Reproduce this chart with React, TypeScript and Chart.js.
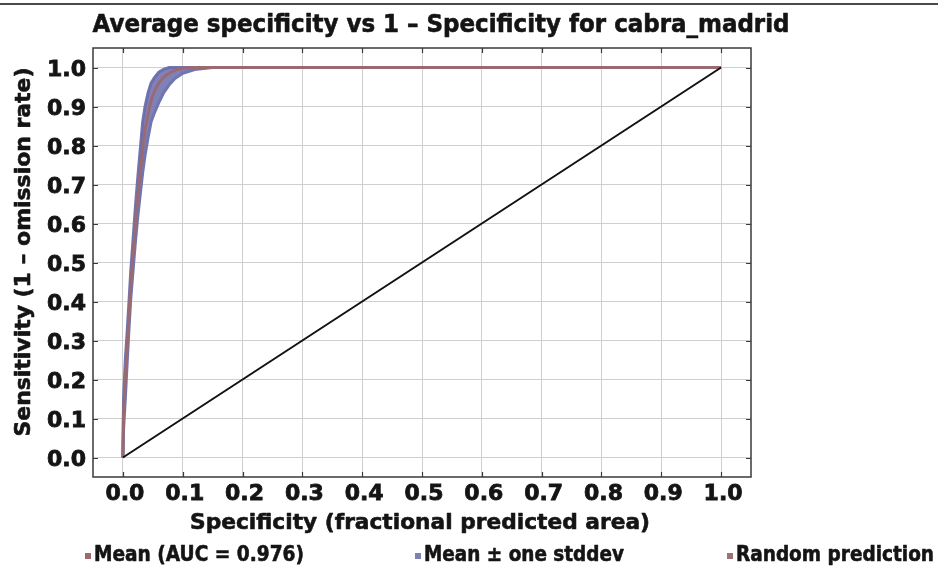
import React, { useEffect, useRef } from "react";
import { Chart, registerables } from "chart.js";

Chart.register(...registerables);

const TITLE = "Average specificity vs 1 \u2013 Specificity for cabra_madrid";
const X_TITLE = "Specificity (fractional predicted area)";
const Y_TITLE = "Sensitivity (1 \u2013 omission rate)";

const X_TICKS = [0, 0.1, 0.2, 0.3, 0.4, 0.5, 0.6, 0.7, 0.8, 0.9, 1.0];
const Y_TICKS = [0, 0.1, 0.2, 0.3, 0.4, 0.5, 0.6, 0.7, 0.8, 0.9, 1.0];

const FPR = [0, 0.001, 0.004, 0.007, 0.01, 0.013, 0.017, 0.021, 0.025, 0.029, 0.033, 0.037, 0.042, 0.047, 0.053, 0.06, 0.068, 0.077, 0.087, 0.1, 0.12, 0.15, 1.0];
const MEAN = [0, 0.11, 0.2, 0.28, 0.36, 0.44, 0.52, 0.6, 0.67, 0.73, 0.79, 0.84, 0.88, 0.915, 0.94, 0.96, 0.975, 0.985, 0.993, 0.998, 1.0, 1.0, 1.0];

const BAND_X = [0, 0.001, 0.004, 0.007, 0.01, 0.013, 0.017, 0.021, 0.025, 0.029, 0.033, 0.037, 0.042, 0.047, 0.053, 0.06, 0.068, 0.077, 0.087, 0.1, 0.12, 0.15];
const UPPER = [0, 0.15, 0.25, 0.32, 0.395, 0.475, 0.56, 0.645, 0.72, 0.79, 0.86, 0.9, 0.935, 0.96, 0.975, 0.988, 0.995, 1.0, 1.0, 1.0, 1.0, 1.0];
const LOWER = [0, 0.07, 0.15, 0.24, 0.325, 0.405, 0.48, 0.555, 0.62, 0.675, 0.73, 0.775, 0.82, 0.86, 0.885, 0.91, 0.935, 0.955, 0.972, 0.985, 0.995, 1.0];

const RANDOM_X = [0, 1];
const RANDOM_Y = [0, 1];

const LEGEND_LABELS = ["Mean (AUC = 0.976)", "Mean \u00b1 one stddev", "Random prediction"];

const MEAN_COLOR = "#9a6a72";
const BAND_COLOR = "rgba(104,108,172,0.85)";
const BAND_LINE = "#7175b0";
const LEGEND_COLORS = ["#9c6b70", "#7c80b5", "#9b7476"];

const FONT_FAMILY = "'DejaVu Sans', sans-serif";
const TEXT_COLOR = "#141414";

const pts = (xs: number[], ys: number[]) => xs.map((x, i) => ({ x, y: ys[i] }));

function fitText(ctx: any, text: string, x: number, y: number, width: number, size: number, align: string) {
  ctx.save();
  ctx.font = `bold ${size}px ${FONT_FAMILY}`;
  const w = ctx.measureText(text).width;
  ctx.translate(x, y);
  ctx.scale(width / w, 1);
  ctx.textAlign = align;
  ctx.fillStyle = TEXT_COLOR;
  ctx.strokeStyle = TEXT_COLOR;
  ctx.lineWidth = 0.6;
  ctx.lineJoin = "round";
  ctx.strokeText(text, 0, 0);
  ctx.fillText(text, 0, 0);
  ctx.restore();
}

const decorPlugin = {
  id: "decor",
  afterDraw(chart: any) {
    const { ctx, chartArea } = chart;
    const { left, right, top, bottom } = chartArea;
    const xs = chart.scales.x;
    const ys = chart.scales.y;
    ctx.save();
    // top rule
    ctx.fillStyle = "#4a4a4a";
    ctx.fillRect(0, 3, 938, 2);
    // frame
    ctx.strokeStyle = "#3a3a3a";
    ctx.lineWidth = 1.5;
    ctx.strokeRect(left, top, right - left, bottom - top);
    // inner ticks
    ctx.lineWidth = 1.2;
    X_TICKS.forEach((v) => {
      const px = Math.round(xs.getPixelForValue(v)) + 0.5;
      ctx.beginPath();
      ctx.moveTo(px, bottom);
      ctx.lineTo(px, bottom - 5);
      ctx.moveTo(px, top);
      ctx.lineTo(px, top + 5);
      ctx.stroke();
    });
    Y_TICKS.forEach((v) => {
      const py = Math.round(ys.getPixelForValue(v)) + 0.5;
      ctx.beginPath();
      ctx.moveTo(left, py);
      ctx.lineTo(left + 5, py);
      ctx.moveTo(right, py);
      ctx.lineTo(right - 5, py);
      ctx.stroke();
    });
    // titles
    ctx.textBaseline = "alphabetic";
    fitText(ctx, TITLE, 441, 32, 697, 24, "center");
    fitText(ctx, X_TITLE, 420, 529, 460, 22, "center");
    ctx.save();
    ctx.translate(30, 252);
    ctx.rotate(-Math.PI / 2);
    fitText(ctx, Y_TITLE, 0, 0, 369, 22, "center");
    ctx.restore();
    // legend
    const legendX = [85, 415, 727];
    const legendW = [210, 200, 198];
    LEGEND_LABELS.forEach((lab, i) => {
      ctx.fillStyle = LEGEND_COLORS[i];
      ctx.fillRect(legendX[i], 553, 6, 6);
      fitText(ctx, lab, legendX[i] + 9, 561, legendW[i], 21, "left");
    });
    ctx.restore();
  },
};

const tickFont = { family: FONT_FAMILY, weight: "bold", size: 22 };

export default function App() {
  const ref = useRef<HTMLCanvasElement>(null);
  useEffect(() => {
    if (!ref.current) return;
    const chart = new Chart(ref.current, {
      type: "scatter",
      data: {
        datasets: [
          {
            label: "upper",
            data: pts(BAND_X, UPPER),
            showLine: true,
            borderColor: BAND_LINE,
            borderWidth: 3,
            pointRadius: 0,
            fill: false,
            order: 3,
          },
          {
            label: LEGEND_LABELS[1],
            data: pts(BAND_X, LOWER),
            showLine: true,
            borderColor: BAND_LINE,
            borderWidth: 3,
            pointRadius: 0,
            backgroundColor: BAND_COLOR,
            fill: "-1",
            order: 2,
          },
          {
            label: LEGEND_LABELS[0],
            data: pts(FPR, MEAN),
            showLine: true,
            borderColor: MEAN_COLOR,
            borderWidth: 3,
            pointRadius: 0,
            fill: false,
            order: 1,
          },
          {
            label: LEGEND_LABELS[2],
            data: pts(RANDOM_X, RANDOM_Y),
            showLine: true,
            borderColor: "#111",
            borderWidth: 2,
            pointRadius: 0,
            fill: false,
            order: 0,
          },
        ],
      },
      options: {
        animation: false,
        responsive: false,
        devicePixelRatio: 1,
        layout: { padding: { top: 48, right: 187, bottom: 0, left: 0 } },
        plugins: { legend: { display: false }, tooltip: { enabled: false }, title: { display: false } },
        scales: {
          x: {
            type: "linear",
            min: -0.05,
            max: 1.05,
            afterFit: (s: any) => {
              s.height = 93;
            },
            afterBuildTicks: (s: any) => {
              s.ticks = X_TICKS.map((v) => ({ value: v }));
            },
            grid: { color: "#cfcfcf", lineWidth: 1, drawTicks: false },
            border: { display: false },
            ticks: {
              padding: 4,
              labelOffset: 2,
              color: TEXT_COLOR,
              textStrokeColor: TEXT_COLOR,
              textStrokeWidth: 0.8,
              font: tickFont,
              callback: (v: any) => Number(v).toFixed(1),
              maxRotation: 0,
              autoSkip: false,
            },
          },
          y: {
            type: "linear",
            min: -0.05,
            max: 1.05,
            afterFit: (s: any) => {
              s.width = 93;
            },
            afterBuildTicks: (s: any) => {
              s.ticks = Y_TICKS.map((v) => ({ value: v }));
            },
            grid: { color: "#cfcfcf", lineWidth: 1, drawTicks: false },
            border: { display: false },
            ticks: {
              padding: 7,
              labelOffset: 3,
              color: TEXT_COLOR,
              textStrokeColor: TEXT_COLOR,
              textStrokeWidth: 0.8,
              font: tickFont,
              callback: (v: any) => Number(v).toFixed(1),
              autoSkip: false,
            },
          },
        },
      },
      plugins: [decorPlugin],
    } as any);
    return () => chart.destroy();
  }, []);
  return (
    <div style={{ position: "fixed", left: 0, top: 0, width: 938, height: 570, background: "#fff" }}>
      <canvas ref={ref} width={938} height={570} style={{ display: "block", width: 938, height: 570 }} />
    </div>
  );
}
